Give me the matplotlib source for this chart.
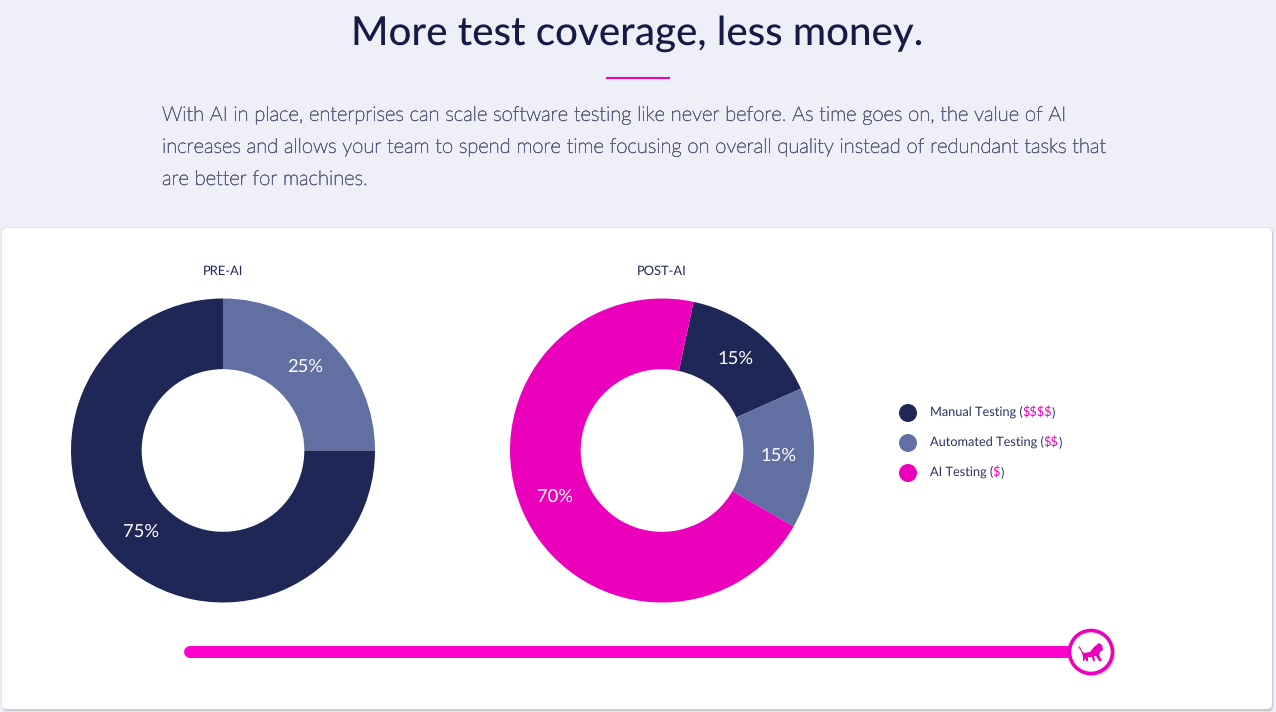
import numpy as np
import matplotlib
matplotlib.use('Agg')
import matplotlib.pyplot as plt
import matplotlib.patheffects as pe
from matplotlib.patches import FancyBboxPatch, Circle, Polygon

plt.rcParams['font.family'] = ['Lato', 'DejaVu Sans']
plt.rcParams['text.hinting'] = 'no_hinting'

W, H = 1276, 712
NAVY = '#1f2756'
BLUE = '#626fa3'
PINK = '#eb00bb'
BAR_PINK = '#ff00c8'
BG = '#eeeff7'
TITLE_COL = '#151b45'
TEXT = '#5c5e7c'

title = 'More test coverage, less money.'
body_lines = [
    'With AI in place, enterprises can scale software testing like never before. As time goes on, the value of AI',
    'increases and allows your team to spend more time focusing on overall quality instead of redundant tasks that',
    'are better for machines.',
]

pre_values = [25, 75]
pre_labels = ['25%', '75%']
pre_colors = [BLUE, NAVY]
post_values = [15, 15, 70]
post_labels = ['15%', '15%', '70%']
post_colors = [NAVY, BLUE, PINK]

legend_names = ['Manual Testing (', 'Automated Testing (', 'AI Testing (']
legend_costs = ['\\$\\$\\$\\$', '\\$\\$', '\\$']
legend_colors = [NAVY, BLUE, PINK]

fig = plt.figure(figsize=(W / 100, H / 100), dpi=100, facecolor=BG)

# pixel coordinates for everything that is not a donut
bg = fig.add_axes([0, 0, 1, 1])
bg.set_xlim(0, W)
bg.set_ylim(H, 0)
bg.axis('off')

bg.add_patch(FancyBboxPatch((1, 227), 1273, 485, boxstyle='round,pad=0,rounding_size=6',
                            fc='#e4e4ec', ec='none', zorder=1))
bg.add_patch(FancyBboxPatch((3, 229), 1270, 482, boxstyle='round,pad=0,rounding_size=5',
                            fc='#c9c9d2', ec='none', zorder=1))
bg.add_patch(FancyBboxPatch((2, 228), 1270, 481, boxstyle='round,pad=0,rounding_size=5',
                            fc='white', ec='none', zorder=2))

bg.text(637, 34, title, fontsize=29, color=TITLE_COL, ha='center', va='center',
        fontweight='medium', zorder=3)
bg.plot([606, 670], [77.5, 77.5], color=PINK, lw=1.5, solid_capstyle='butt', zorder=3)

# the light face renders too thin here, a hairline stroke brings it back
for y, line in zip([115.5, 147.5, 179.5], body_lines):
    bg.text(162, y, line, fontsize=14.55, color=TEXT, ha='left', va='center',
            fontweight='light', zorder=3,
            path_effects=[pe.withStroke(linewidth=0.45, foreground=TEXT)])

bg.text(223, 271, 'PRE-AI', fontsize=9.3, color=NAVY, ha='center', va='center', zorder=3)
bg.text(662, 271, 'POST-AI', fontsize=9.3, color=NAVY, ha='center', va='center', zorder=3)


def donut(cx, cy, values, colors, labels, start):
    r = 152
    ax = fig.add_axes([(cx - r) / W, 1 - (cy + r) / H, 2 * r / W, 2 * r / H])
    ax.pie(values, colors=colors, startangle=start, counterclock=False, radius=1,
           wedgeprops={'width': 0.465, 'edgecolor': 'none'})
    ax.set_xlim(-1, 1)
    ax.set_ylim(-1, 1)
    ax.patch.set_alpha(0)
    # labels sit in the middle of the ring
    angle = start
    total = sum(values)
    for v, lab in zip(values, labels):
        sweep = v / total * 360
        mid = np.deg2rad(angle - sweep / 2)
        ax.text(0.767 * np.cos(mid), 0.767 * np.sin(mid) + 0.006, lab, color='white', fontsize=13.2,
                ha='center', va='center')
        angle -= sweep


donut(223, 450.5, pre_values, pre_colors, pre_labels, 90)
donut(662, 450.5, post_values, post_colors, post_labels, 78)

# legend
for y, name, cost, col in zip([412, 442, 472], legend_names, legend_costs, legend_colors):
    bg.add_patch(Circle((908, y + 1), 9, fc=col, ec='none', zorder=3))
    t1 = bg.text(929.5, y, name, fontsize=9.2, color='#2a3160', ha='left', va='center', zorder=3)
    t2 = bg.annotate(cost, xy=(1, 0), xycoords=t1, va='bottom', ha='left',
                     fontsize=9.2, color=PINK, zorder=3)
    bg.annotate(')', xy=(1, 0), xycoords=t2, va='bottom', ha='left',
                fontsize=9.2, color='#2a3160', zorder=3)

# slider
bg.plot([190, 1075], [652, 652], color=BAR_PINK, lw=8.6, solid_capstyle='round', zorder=3)
bg.add_patch(Circle((1093, 654), 22.5, fc='#c4c4c4', ec='none', alpha=0.6, zorder=4))
bg.add_patch(Circle((1091, 652), 21.5, fc='white', ec=PINK, lw=2.6, zorder=5))
lion = [(1078, 646), (1080, 647), (1082, 651), (1084, 653), (1090, 652), (1094, 647), (1099, 643),
        (1102, 645), (1103, 650), (1100, 652), (1099, 655), (1102, 661), (1099, 661), (1096, 656),
        (1094, 656), (1095, 661), (1093, 661), (1092, 657), (1088, 657), (1088, 661), (1086, 661),
        (1086, 658), (1084, 661), (1083, 661), (1083, 656), (1081, 651), (1079, 648)]
bg.add_patch(Polygon(lion, closed=True, fc=PINK, ec='none', zorder=6))

fig.savefig('out.png', dpi=100, facecolor=BG)
